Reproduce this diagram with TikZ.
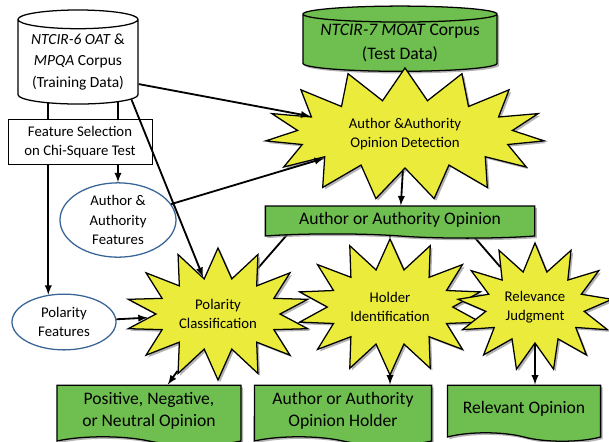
\documentclass[tikz,border=0pt]{standalone}
\usepackage{fontspec}
\setmainfont{Carlito}
\usetikzlibrary{shapes.geometric,shapes.symbols,shadows,backgrounds,calc}

\definecolor{burstyellow}{RGB}{235,235,60}
\definecolor{boxgreen}{RGB}{110,190,80}
\definecolor{featblue}{RGB}{55,100,150}

\begin{document}
\begin{tikzpicture}[x=0.025cm,y=-0.025cm,->,>=latex,line width=1.3pt,
        corpus/.style={cylinder,shape border rotate=90,draw=black,line width=0.9pt,align=center,
            inner sep=0pt},
        burst/.style={starburst,draw=black,line width=0.9pt,fill=burstyellow,align=center,
            random starburst=0,font=\fontsize{10.5}{14}\selectfont,
            drop shadow={opacity=0.6,shadow xshift=1.5pt,shadow yshift=-1.5pt}},
        result/.style={tape,tape bend top=none,tape bend bottom=out and in,draw=black,line width=0.9pt,
            fill=boxgreen,align=center,font=\fontsize{12.5}{16}\selectfont,
            drop shadow={opacity=0.6,shadow xshift=1.5pt,shadow yshift=-1.5pt}},
        feat/.style={ellipse,draw=featblue,line width=0.9pt,fill=white,align=center,
            font=\fontsize{10.5}{14}\selectfont},
        hidden/.style={-,line width=1.3pt}]

    \useasboundingbox (0,0) rectangle (609,441);

    % data sources
    \node[corpus, fill=white, minimum width=3cm, minimum height=2.35cm, aspect=0.2,
        font=\fontsize{11}{15}\selectfont] (train) at (78,62)
        {\textit{NTCIR-6 OAT} \&\\ \textit{MPQA} Corpus\\ (Training Data)};
    \node[corpus, fill=boxgreen, minimum width=4.85cm, minimum height=1.63cm, aspect=0.1,
        font=\fontsize{12.5}{17}\selectfont, drop shadow={opacity=0.6,shadow xshift=1.5pt,shadow yshift=-1.5pt}] (test) at (400,43)
        {\textit{NTCIR-7 MOAT} Corpus\\ (Test Data)};

    \node[draw=black, line width=0.6pt, fill=white, align=center, minimum width=3.6cm, minimum height=1.12cm,
        font=\fontsize{10.5}{14}\selectfont] (fs) at (80,142)
        {Feature Selection\\ on Chi-Square Test};

    \node[feat, minimum width=2.9cm, minimum height=1.7cm, inner sep=1pt] (aaf) at (118,220) {Author \&\\ Authority\\ Features};
    \node[feat, minimum width=2.6cm, minimum height=1.15cm] (pf) at (64,322) {Polarity\\ Features};

    % processing steps
    \node[burst, minimum width=7cm, minimum height=3.3cm, starburst points=15,
        starburst point height=0.8cm] (aaod) at (405,134)
        {Author \&Authority\\ Opinion Detection};
    \node[result, tape bend height=3pt, minimum width=6.73cm, minimum height=0.8cm] (aao) at (400,220)
        {Author or Authority Opinion};

    \node[burst, minimum width=4.6cm, minimum height=3.3cm, starburst points=14,
        starburst point height=0.75cm] (pc) at (218,314)
        {Polarity\\ Classification};
    \node[burst, minimum width=4.5cm, minimum height=3.4cm, starburst points=14,
        starburst point height=0.75cm] (hi) at (390,307)
        {Holder\\ Identification};
    \node[burst, minimum width=3.65cm, minimum height=3.2cm, starburst points=13,
        starburst point height=0.7cm] (rj) at (535,307)
        {Relevance\\ Judgment};

    % results
    \node[result, tape bend height=6pt, minimum width=4.6cm, minimum height=1.5cm] (pos) at (149,411)
        {Positive, Negative,\\ or Neutral Opinion};
    \node[result, tape bend height=6pt, minimum width=4.43cm, minimum height=1.5cm] (holder) at (343,411)
        {Author or Authority\\ Opinion Holder};
    \node[result, tape bend height=6pt, minimum width=3.83cm, minimum height=1.4cm] (rel) at (524,409)
        {Relevant Opinion};

    % lines hidden behind the shapes
    \begin{scope}[on background layer]
        \draw[hidden] (pf.120 |- train.center) -- (pf.120 |- fs.north);
        \draw[hidden] (aaf.north |- train.center) -- (aaf.north |- fs.north);
        \draw[hidden] (test) -- (aaod);
        \draw[hidden] ($(aao.west)!0.13!(aao.east)$) -- (pc);
        \draw[hidden] (hi |- aao.center) -- (hi);
        \draw[hidden] ($(aao.west)!0.72!(aao.east)$) -- (rj);
    \end{scope}

    \draw (pf.120 |- fs.south) -- (pf.120);
    \draw (aaf.north |- fs.south) -- (aaf.north);
    \draw (train.-20) -- (aaod);
    \draw (train.-35) -- (pc);
    \draw (aaf) -- (aaod);
    \draw (pf) -- (pc);
    \draw (aaod) -- (aao);
    \draw (pc) -- (pos);
    \draw (hi) -- (hi |- holder.north);
    \draw (rj) -- (rj |- rel.north);

\end{tikzpicture}
\end{document}
